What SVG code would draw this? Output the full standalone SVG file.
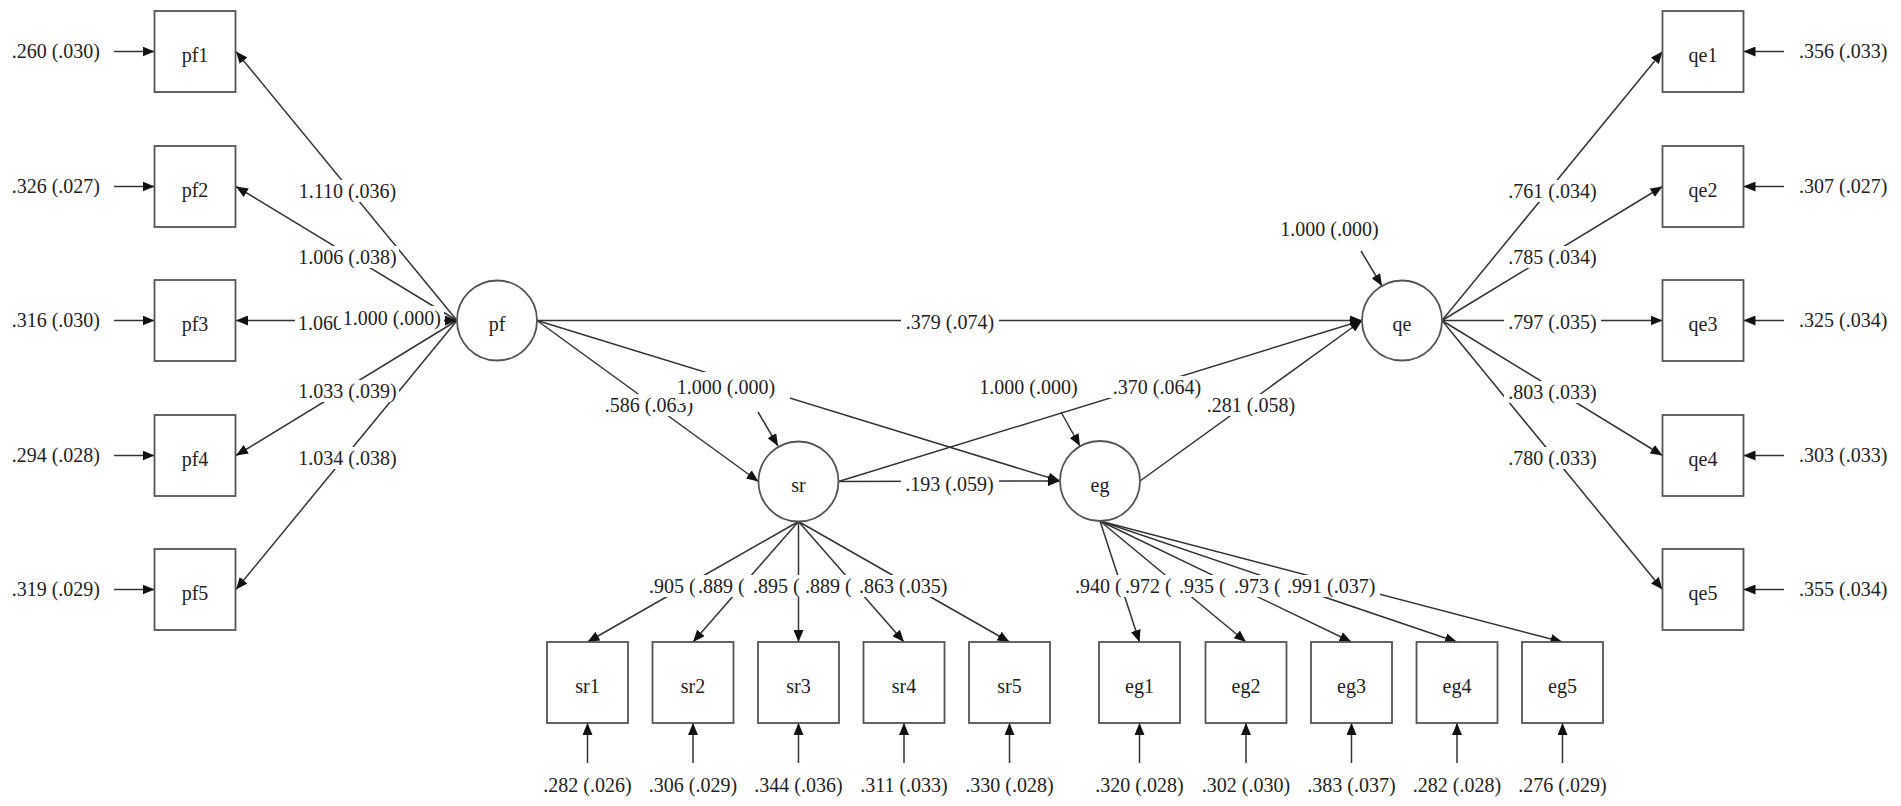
<svg xmlns="http://www.w3.org/2000/svg" width="1901" height="806" viewBox="0 0 1901 806">
<defs>
<marker id="ah" viewBox="0 0 12 10" refX="12" refY="5" markerWidth="12" markerHeight="10" markerUnits="userSpaceOnUse" orient="auto"><path d="M0,0 L12,5 L0,10 z" fill="#111"/></marker>
</defs>
<style>
.ln{stroke:#333;stroke-width:1.5;fill:none;marker-end:url(#ah)}
.box{fill:#fff;stroke:#555;stroke-width:1.8}
.lat{fill:#fff;stroke:#555;stroke-width:1.8}
text{font-family:"Liberation Serif","Times New Roman",serif;font-size:20px;fill:#222}
.c{text-anchor:middle}
.e{text-anchor:end}
.bg{fill:#fff}
</style>
<rect width="1901" height="806" fill="#fff"/>
<g id="connectors">
<!-- pf loadings -->
<line class="ln" x1="457" y1="320.5" x2="236" y2="51.5"/>
<line class="ln" x1="457" y1="320.5" x2="236" y2="186.5"/>
<line class="ln" x1="457" y1="320.5" x2="236" y2="320.5"/>
<line class="ln" x1="457" y1="320.5" x2="236" y2="455.5"/>
<line class="ln" x1="457" y1="320.5" x2="236" y2="589.5"/>
<!-- qe loadings -->
<line class="ln" x1="1442" y1="320.5" x2="1662.5" y2="51.5"/>
<line class="ln" x1="1442" y1="320.5" x2="1662.5" y2="186.5"/>
<line class="ln" x1="1442" y1="320.5" x2="1662.5" y2="320.5"/>
<line class="ln" x1="1442" y1="320.5" x2="1662.5" y2="455.5"/>
<line class="ln" x1="1442" y1="320.5" x2="1662.5" y2="589.5"/>
<!-- structural -->
<line class="ln" x1="537" y1="320.5" x2="1362" y2="320.5"/>
<line class="ln" x1="537" y1="320.5" x2="758.5" y2="481.5"/>
<line class="ln" x1="537" y1="320.5" x2="1060" y2="481"/>
<line class="ln" x1="838.5" y1="481.5" x2="1060" y2="481"/>
<line class="ln" x1="838.5" y1="481.5" x2="1362" y2="320.5"/>
<line class="ln" x1="1140" y1="481" x2="1362" y2="320.5"/>
<!-- sr loadings -->
<line class="ln" x1="798.5" y1="521.5" x2="587.5" y2="642"/>
<line class="ln" x1="798.5" y1="521.5" x2="693" y2="642"/>
<line class="ln" x1="798.5" y1="521.5" x2="798.5" y2="642"/>
<line class="ln" x1="798.5" y1="521.5" x2="904" y2="642"/>
<line class="ln" x1="798.5" y1="521.5" x2="1009.5" y2="642"/>
<!-- eg loadings -->
<line class="ln" x1="1100" y1="521" x2="1139.5" y2="642"/>
<line class="ln" x1="1100" y1="521" x2="1246" y2="642"/>
<line class="ln" x1="1100" y1="521" x2="1351.5" y2="642"/>
<line class="ln" x1="1100" y1="521" x2="1457" y2="642"/>
<line class="ln" x1="1100" y1="521" x2="1562.5" y2="642"/>
<!-- variances of latents -->
<line class="ln" x1="443" y1="320.5" x2="457" y2="320.5"/>
<line class="ln" x1="758" y1="412" x2="778" y2="446"/>
<line class="ln" x1="1061" y1="412" x2="1080" y2="446"/>
<line class="ln" x1="1361" y1="251" x2="1382" y2="286"/>
<!-- error arrows left -->
<line class="ln" x1="114" y1="51.5" x2="154.5" y2="51.5"/>
<line class="ln" x1="114" y1="186.5" x2="154.5" y2="186.5"/>
<line class="ln" x1="114" y1="320.5" x2="154.5" y2="320.5"/>
<line class="ln" x1="114" y1="455.5" x2="154.5" y2="455.5"/>
<line class="ln" x1="114" y1="589.5" x2="154.5" y2="589.5"/>
<!-- error arrows right -->
<line class="ln" x1="1784" y1="51.5" x2="1743.5" y2="51.5"/>
<line class="ln" x1="1784" y1="186.5" x2="1743.5" y2="186.5"/>
<line class="ln" x1="1784" y1="320.5" x2="1743.5" y2="320.5"/>
<line class="ln" x1="1784" y1="455.5" x2="1743.5" y2="455.5"/>
<line class="ln" x1="1784" y1="589.5" x2="1743.5" y2="589.5"/>
<!-- error arrows bottom -->
<line class="ln" x1="587.5" y1="763" x2="587.5" y2="723"/>
<line class="ln" x1="693" y1="763" x2="693" y2="723"/>
<line class="ln" x1="798.5" y1="763" x2="798.5" y2="723"/>
<line class="ln" x1="904" y1="763" x2="904" y2="723"/>
<line class="ln" x1="1009.5" y1="763" x2="1009.5" y2="723"/>
<line class="ln" x1="1139.5" y1="763" x2="1139.5" y2="723"/>
<line class="ln" x1="1246" y1="763" x2="1246" y2="723"/>
<line class="ln" x1="1351.5" y1="763" x2="1351.5" y2="723"/>
<line class="ln" x1="1457" y1="763" x2="1457" y2="723"/>
<line class="ln" x1="1562.5" y1="763" x2="1562.5" y2="723"/>
</g>
<g id="labels">
<rect class="bg" x="296" y="180" width="103" height="22"/><text class="c" x="347.5" y="198">1.110 (.036)</text>
<rect class="bg" x="296" y="246" width="103" height="22"/><text class="c" x="347.5" y="264">1.006 (.038)</text>
<rect class="bg" x="295" y="312" width="48" height="22"/><text x="298" y="330">1.060</text>
<rect class="bg" x="338" y="306" width="106" height="22"/><text class="e" x="441" y="325">1.000 (.000)</text>
<rect class="bg" x="296" y="380" width="103" height="22"/><text class="c" x="347.5" y="398">1.033 (.039)</text>
<rect class="bg" x="296" y="447" width="103" height="22"/><text class="c" x="347.5" y="465">1.034 (.038)</text>

<rect class="bg" x="1504" y="180" width="97" height="22"/><text class="c" x="1552.5" y="198">.761 (.034)</text>
<rect class="bg" x="1504" y="246" width="97" height="22"/><text class="c" x="1552.5" y="264">.785 (.034)</text>
<rect class="bg" x="1504" y="311" width="97" height="22"/><text class="c" x="1552.5" y="329">.797 (.035)</text>
<rect class="bg" x="1504" y="381" width="97" height="22"/><text class="c" x="1552.5" y="399">.803 (.033)</text>
<rect class="bg" x="1504" y="447" width="97" height="22"/><text class="c" x="1552.5" y="465">.780 (.033)</text>

<rect class="bg" x="1277" y="218" width="105" height="22"/><text class="c" x="1329.5" y="236">1.000 (.000)</text>
<rect class="bg" x="901" y="311" width="98" height="22"/><text class="c" x="950" y="329">.379 (.074)</text>
<rect class="bg" x="901" y="473" width="98" height="22"/><text class="c" x="949.5" y="491">.193 (.059)</text>
<rect class="bg" x="600" y="394" width="98" height="22"/><text class="c" x="649" y="412">.586 (.063)</text>
<rect class="bg" x="678" y="372" width="112" height="31"/><text class="c" x="726" y="394">1.000 (.000)</text>
<rect class="bg" x="976" y="376" width="105" height="22"/><text class="c" x="1028.5" y="394">1.000 (.000)</text>
<rect class="bg" x="1108" y="376" width="98" height="22"/><text class="c" x="1157" y="394">.370 (.064)</text>
<rect class="bg" x="1202" y="394" width="98" height="22"/><text class="c" x="1251" y="412">.281 (.058)</text>

<rect class="bg" x="647" y="575" width="51" height="22"/><text x="649" y="593">.905 (</text>
<rect class="bg" x="697" y="575" width="56" height="22"/><text x="698" y="593">.889 (</text>
<rect class="bg" x="752" y="575" width="53" height="22"/><text x="753" y="593">.895 (</text>
<rect class="bg" x="804" y="575" width="55" height="22"/><text x="805" y="593">.889 (</text>
<rect class="bg" x="858" y="575" width="95" height="22"/><text x="859" y="593">.863 (.035)</text>

<rect class="bg" x="1073" y="575" width="52" height="22"/><text x="1075" y="593">.940 (</text>
<rect class="bg" x="1124" y="575" width="55" height="22"/><text x="1125" y="593">.972 (</text>
<rect class="bg" x="1178" y="575" width="56" height="22"/><text x="1179" y="593">.935 (</text>
<rect class="bg" x="1233" y="575" width="54" height="22"/><text x="1234" y="593">.973 (</text>
<rect class="bg" x="1286" y="575" width="94" height="22"/><text x="1287" y="593">.991 (.037)</text>

<text class="e" x="100" y="58">.260 (.030)</text>
<text class="e" x="100" y="193">.326 (.027)</text>
<text class="e" x="100" y="327">.316 (.030)</text>
<text class="e" x="100" y="462">.294 (.028)</text>
<text class="e" x="100" y="596">.319 (.029)</text>

<text x="1799" y="58">.356 (.033)</text>
<text x="1799" y="193">.307 (.027)</text>
<text x="1799" y="327">.325 (.034)</text>
<text x="1799" y="462">.303 (.033)</text>
<text x="1799" y="596">.355 (.034)</text>

<text class="c" x="587.5" y="792">.282 (.026)</text>
<text class="c" x="693" y="792">.306 (.029)</text>
<text class="c" x="798.5" y="792">.344 (.036)</text>
<text class="c" x="904" y="792">.311 (.033)</text>
<text class="c" x="1009.5" y="792">.330 (.028)</text>
<text class="c" x="1139.5" y="792">.320 (.028)</text>
<text class="c" x="1246" y="792">.302 (.030)</text>
<text class="c" x="1351.5" y="792">.383 (.037)</text>
<text class="c" x="1457" y="792">.282 (.028)</text>
<text class="c" x="1562.5" y="792">.276 (.029)</text>
</g>
<g id="pf"><circle class="lat" cx="497" cy="320.5" r="40"/><text class="c" x="497" y="331">pf</text></g>
<g id="qe"><circle class="lat" cx="1402" cy="320.5" r="40"/><text class="c" x="1402" y="331">qe</text></g>
<g id="sr"><circle class="lat" cx="798.5" cy="481.5" r="40"/><text class="c" x="798.5" y="492">sr</text></g>
<g id="eg"><circle class="lat" cx="1100" cy="481" r="40"/><text class="c" x="1100" y="492">eg</text></g>
<g id="pf1"><rect class="box" x="154.5" y="11" width="81" height="81"/><text class="c" x="195" y="62">pf1</text></g>
<g id="pf2"><rect class="box" x="154.5" y="146" width="81" height="81"/><text class="c" x="195" y="197">pf2</text></g>
<g id="pf3"><rect class="box" x="154.5" y="280" width="81" height="81"/><text class="c" x="195" y="331">pf3</text></g>
<g id="pf4"><rect class="box" x="154.5" y="415" width="81" height="81"/><text class="c" x="195" y="466">pf4</text></g>
<g id="pf5"><rect class="box" x="154.5" y="549" width="81" height="81"/><text class="c" x="195" y="600">pf5</text></g>
<g id="qe1"><rect class="box" x="1662.5" y="11" width="81" height="81"/><text class="c" x="1703" y="62">qe1</text></g>
<g id="qe2"><rect class="box" x="1662.5" y="146" width="81" height="81"/><text class="c" x="1703" y="197">qe2</text></g>
<g id="qe3"><rect class="box" x="1662.5" y="280" width="81" height="81"/><text class="c" x="1703" y="331">qe3</text></g>
<g id="qe4"><rect class="box" x="1662.5" y="415" width="81" height="81"/><text class="c" x="1703" y="466">qe4</text></g>
<g id="qe5"><rect class="box" x="1662.5" y="549" width="81" height="81"/><text class="c" x="1703" y="600">qe5</text></g>
<g id="sr1"><rect class="box" x="547" y="642" width="81" height="81"/><text class="c" x="587.5" y="693">sr1</text></g>
<g id="sr2"><rect class="box" x="652.5" y="642" width="81" height="81"/><text class="c" x="693" y="693">sr2</text></g>
<g id="sr3"><rect class="box" x="758" y="642" width="81" height="81"/><text class="c" x="798.5" y="693">sr3</text></g>
<g id="sr4"><rect class="box" x="863.5" y="642" width="81" height="81"/><text class="c" x="904" y="693">sr4</text></g>
<g id="sr5"><rect class="box" x="969" y="642" width="81" height="81"/><text class="c" x="1009.5" y="693">sr5</text></g>
<g id="eg1"><rect class="box" x="1099" y="642" width="81" height="81"/><text class="c" x="1139.5" y="693">eg1</text></g>
<g id="eg2"><rect class="box" x="1205.5" y="642" width="81" height="81"/><text class="c" x="1246" y="693">eg2</text></g>
<g id="eg3"><rect class="box" x="1311" y="642" width="81" height="81"/><text class="c" x="1351.5" y="693">eg3</text></g>
<g id="eg4"><rect class="box" x="1416.5" y="642" width="81" height="81"/><text class="c" x="1457" y="693">eg4</text></g>
<g id="eg5"><rect class="box" x="1522" y="642" width="81" height="81"/><text class="c" x="1562.5" y="693">eg5</text></g>
</svg>
